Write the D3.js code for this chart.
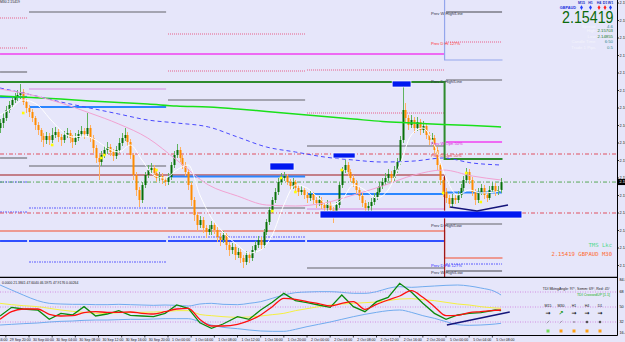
<!DOCTYPE html>
<html>
<head>
<meta charset="utf-8">
<title>GBPAUD M30</title>
<script src="https://d3js.org/d3.v7.min.js"></script>
<style>
 body { margin: 0; background: #e6e6fa; }
 svg { display: block; font-family: "Liberation Sans", Arial, sans-serif; }
</style>
</head>
<body>
<svg width="625" height="342"></svg>
<script>
// ---- data: GBPAUD M30 candles, 29 Sep 19:00 .. 5 Oct 09:30 ----
const firstOpen = 2.1650;
const close = [
 2.1660,2.1670,2.1686,2.1696,2.1706,2.1712,2.1716,2.1722,2.1702,2.1690,
 2.1682,2.1670,2.1656,2.1646,2.1634,2.1626,2.1634,2.1626,2.1636,2.1642,
 2.1632,2.1626,2.1636,2.1640,2.1630,2.1622,2.1630,2.1638,2.1644,2.1638,
 2.1650,2.1630,2.1610,2.1590,2.1582,2.1596,2.1606,2.1612,2.1602,2.1594,
 2.1606,2.1620,2.1630,2.1636,2.1622,2.1596,2.1556,2.1526,2.1506,2.1536,
 2.1556,2.1566,2.1570,2.1560,2.1550,2.1554,2.1546,2.1542,2.1552,2.1576,
 2.1596,2.1606,2.1590,2.1576,2.1562,2.1536,2.1506,2.1476,2.1456,2.1466,
 2.1450,2.1442,2.1448,2.1456,2.1446,2.1432,2.1426,2.1436,2.1416,2.1406,
 2.1412,2.1396,2.1402,2.1390,2.1382,2.1396,2.1390,2.1406,2.1416,2.1426,
 2.1416,2.1442,2.1462,2.1486,2.1506,2.1522,2.1542,2.1550,2.1554,2.1542,
 2.1534,2.1542,2.1530,2.1522,2.1526,2.1516,2.1510,2.1518,2.1506,2.1500,
 2.1506,2.1496,2.1490,2.1498,2.1486,2.1478,2.1496,2.1536,2.1566,2.1576,
 2.1562,2.1550,2.1540,2.1526,2.1514,2.1500,2.1490,2.1494,2.1502,2.1512,
 2.1522,2.1534,2.1542,2.1550,2.1558,2.1550,2.1566,2.1582,2.1626,2.1686,
 2.1670,2.1656,2.1666,2.1650,2.1662,2.1646,2.1654,2.1636,2.1626,2.1630,
 2.1606,2.1576,2.1546,2.1522,2.1510,2.1498,2.1510,2.1506,2.1516,2.1530,
 2.1546,2.1562,2.1546,2.1522,2.1506,2.1522,2.1530,2.1516,2.1510,2.1526,
 2.1534,2.1522,2.1526,2.15419
];
const high = [
 2.1668,2.1680,2.1694,2.1704,2.1714,2.1720,2.1726,2.1738,2.1728,2.1708,
 2.1696,2.1688,2.1674,2.1662,2.1650,2.1640,2.1642,2.1640,2.1650,2.1652,
 2.1648,2.1638,2.1644,2.1650,2.1646,2.1636,2.1640,2.1646,2.1654,2.1650,
 2.1680,2.1656,2.1636,2.1616,2.1598,2.1604,2.1614,2.1622,2.1618,2.1608,
 2.1614,2.1630,2.1640,2.1650,2.1642,2.1628,2.1600,2.1562,2.1532,2.1542,
 2.1562,2.1576,2.1580,2.1576,2.1566,2.1562,2.1560,2.1552,2.1560,2.1582,
 2.1604,2.1618,2.1612,2.1596,2.1582,2.1568,2.1542,2.1512,2.1482,2.1474,
 2.1472,2.1456,2.1456,2.1464,2.1462,2.1452,2.1440,2.1444,2.1440,2.1422,
 2.1420,2.1418,2.1410,2.1408,2.1396,2.1404,2.1402,2.1414,2.1424,2.1434,
 2.1432,2.1448,2.1468,2.1492,2.1512,2.1530,2.1550,2.1560,2.1562,2.1558,
 2.1548,2.1550,2.1546,2.1536,2.1534,2.1530,2.1522,2.1526,2.1522,2.1512,
 2.1514,2.1512,2.1502,2.1506,2.1502,2.1492,2.1502,2.1542,2.1572,2.1586,
 2.1582,2.1568,2.1556,2.1546,2.1532,2.1520,2.1506,2.1502,2.1510,2.1520,
 2.1530,2.1542,2.1550,2.1560,2.1568,2.1564,2.1574,2.1590,2.1634,2.1736,
 2.1700,2.1676,2.1676,2.1672,2.1672,2.1668,2.1664,2.1660,2.1642,2.1640,
 2.1636,2.1612,2.1582,2.1552,2.1530,2.1516,2.1518,2.1516,2.1524,2.1538,
 2.1554,2.1570,2.1568,2.1552,2.1528,2.1530,2.1538,2.1536,2.1522,2.1534,
 2.1542,2.1540,2.1534,2.1550
];
const low = [
 2.1640,2.1650,2.1664,2.1680,2.1690,2.1700,2.1704,2.1708,2.1696,2.1680,
 2.1672,2.1662,2.1646,2.1636,2.1622,2.1612,2.1618,2.1616,2.1620,2.1630,
 2.1622,2.1614,2.1620,2.1630,2.1620,2.1610,2.1616,2.1624,2.1632,2.1628,
 2.1632,2.1622,2.1600,2.1580,2.1546,2.1574,2.1590,2.1598,2.1594,2.1584,
 2.1588,2.1600,2.1614,2.1624,2.1614,2.1588,2.1546,2.1514,2.1492,2.1500,
 2.1530,2.1550,2.1558,2.1552,2.1542,2.1544,2.1538,2.1534,2.1536,2.1546,
 2.1570,2.1590,2.1582,2.1568,2.1554,2.1526,2.1494,2.1464,2.1444,2.1450,
 2.1440,2.1430,2.1436,2.1436,2.1438,2.1422,2.1414,2.1420,2.1406,2.1394,
 2.1398,2.1386,2.1390,2.1380,2.1370,2.1376,2.1380,2.1384,2.1400,2.1410,
 2.1406,2.1410,2.1436,2.1456,2.1480,2.1500,2.1516,2.1536,2.1544,2.1536,
 2.1526,2.1528,2.1522,2.1514,2.1516,2.1508,2.1500,2.1504,2.1498,2.1490,
 2.1494,2.1488,2.1480,2.1484,2.1476,2.1460,2.1470,2.1490,2.1530,2.1560,
 2.1554,2.1542,2.1532,2.1518,2.1506,2.1492,2.1482,2.1484,2.1484,2.1496,
 2.1506,2.1516,2.1528,2.1536,2.1544,2.1542,2.1544,2.1560,2.1576,2.1620,
 2.1660,2.1646,2.1650,2.1640,2.1644,2.1636,2.1640,2.1628,2.1616,2.1618,
 2.1598,2.1566,2.1536,2.1512,2.1500,2.1490,2.1492,2.1498,2.1500,2.1510,
 2.1524,2.1540,2.1538,2.1514,2.1496,2.1500,2.1516,2.1508,2.1502,2.1506,
 2.1520,2.1514,2.1516,2.1520
];

// moving averages (read every ~10 bars)
const maBars = [0, 11, 21, 31, 41, 51, 61, 72, 82, 92, 102, 112, 122, 132, 143, 153, 163, 173];
const pinkMA = [2.1728, 2.1716, 2.1700, 2.1680, 2.1658, 2.1630, 2.1586, 2.1536, 2.1514, 2.1496, 2.1494, 2.1500, 2.1516, 2.1534, 2.1556, 2.1566, 2.1554, 2.1546];
const blueMA = [2.1730, 2.1716, 2.1702, 2.1690, 2.1678, 2.1666, 2.1660, 2.1652, 2.1632, 2.1612, 2.1602, 2.1592, 2.1586, 2.1582, 2.1584, 2.1590, 2.1580, 2.1576];
const limeMA = [2.1714, 2.1711, 2.1708, 2.1704, 2.1701, 2.1698, 2.1694, 2.1692, 2.1688, 2.1683, 2.1678, 2.1673, 2.1668, 2.1663, 2.1660, 2.1657, 2.1655, 2.1652];

// fast MA and TDI lines (read every ~4 bars)
const sampleBars = [0,4,8,13,17,21,25,29,33,37,41,45,49,53,57,61,65,69,73,77,82,86,90,94,98,102,106,110,114,118,122,126,130,134,138,142,146,150,154,158,162,166,171,173];
const whiteMA = [2.1676,2.1690,2.1706,2.1696,2.1670,2.1646,2.1632,2.1634,2.1626,2.1610,2.1602,2.1616,2.1586,2.1556,2.1550,2.1566,2.1576,2.1516,2.1470,2.1442,2.1416,2.1400,2.1406,2.1436,2.1496,2.1536,2.1530,2.1510,2.1496,2.1506,2.1536,2.1526,2.1510,2.1526,2.1576,2.1636,2.1650,2.1616,2.1550,2.1516,2.1526,2.1520,2.1522,2.1526];
const tdiGreen = [39.2,49.6,47.6,46.4,35.2,42.4,40.4,50.4,39.2,41.6,45.6,40,39.2,38.4,42.4,52.4,48.4,31,24.4,29.6,38.4,35.2,46.4,55.6,66.4,57.6,55.2,52.4,49.6,64.4,50.4,44.4,56.4,61.6,78.4,68,54.4,42.4,35.2,40.4,42.4,43.2,46.4,45.6];
const tdiRed = [35.2,44.4,47.6,47.6,41.2,39.2,39.6,43.2,44.4,43.6,43.6,44,42.4,41.6,44.4,47.6,48.4,35,27.2,27.2,29.2,33.6,40.4,50.4,60.4,59.2,56.4,54,51.2,54.4,56.4,47.2,53.2,58.4,63.2,69.6,61.6,50.4,39.6,40,43.2,44.4,46,46.4];
const tdiYellow = [54.4,52.8,51.6,50.4,48.4,46.4,44.8,43.6,42.4,42.4,43.2,43.6,43.6,44,44.4,45.6,45.6,41,39.6,38.4,37.6,38,39.2,40.8,42.4,45.6,48,50.4,52.4,53.6,54.4,55.2,56,57.6,59.6,60,58.8,57.6,55.6,53.6,52.4,50.4,48.8,48.4];
const tdiUpper = [76.4,70.4,64.4,57.6,54.4,53.6,53.2,53.2,52.8,52.8,53.2,52.8,52.4,52,52.4,52,51.2,53.6,54.4,53.2,52.8,54.4,56.4,60.4,64.4,67.2,68,68.4,68.4,67.6,66.4,66.4,68.4,72.4,74.4,73.6,74.4,75.2,76,76.4,75.2,72.8,68.4,64.4];
const tdiLower = [28.4,29.2,30,30.8,32,32.8,33.2,34,34.4,34.4,34.8,35.2,35.2,35.6,36,36,36,32.4,28.4,25.6,24,22.4,21.2,20.8,20.8,23.2,26.4,29.2,32,35.2,38.4,41.2,43.6,45.6,46.4,43.6,39.6,36.4,32.4,28.8,28,28.4,29.6,30.4];
const tdiLevels = [68, 50, 32];

// days: 29 Sep (tail), 30 Sep, 1 Oct, 2 Oct, 5 Oct
const dayStart = [0, 10, 58, 106, 154];
const dayEnd = [9, 57, 105, 153, 173];
const prevDayHigh = [2.1762, 2.1882, 2.1706, 2.1614, 2.1746];
const prevDayLow = [2.1590, 2.1574, 2.1490, 2.1370, 2.1458];
const fibHigh1 = [2.1870, null, 2.1838, 2.1766, 2.1822];
const fibHigh2 = [2.1810, null, 2.1764, 2.1680, null];
const fibLow1 = [2.1542, 2.1490, 2.1432, null, 2.1378];
const fibLow2 = [2.1482, 2.1382, null, null, null];
const dayPivot = [2.1712, 2.1692, 2.1553, 2.1518, 2.1521];
const dayViolet = [null, 2.1728, null, 2.1488, null];
const dayRoyal = [2.1424, 2.1424, 2.1424, 2.1424, null];

// weeks: 28 Sep week, 5 Oct week
const weekStart = [0, 154];
const weekEnd = [153, 173];
const weekGreen = [2.1742, 2.1588];
const weekSalmon = [2.1444, 2.1390];
const weekSky = [2.1930, 2.1786];
const weekMaroon = [2.1556, 2.1340];
const weekMagenta = [2.1798, 2.1622];
const prevWeekHigh = 2.1882;
const prevWeekLow = 2.1364;
const openLevels = [2.1598, 2.1480];

const levelLabels = ["Prev W High/Line", "Prev D Hi 127%", "Prev D High/Line", "Prev W Opn 50%", "Prev D Opn 50%", "Prev D High/Low", "Prev D Fib 127%", "Prev W High/Low"];
const levelLabelPrices = [2.1882, 2.1822, 2.1746, 2.1622, 2.1598, 2.1458, 2.1378, 2.1364];

// supply / demand boxes
const zoneFrom = [110.5, 93.2, 115, 135.4];
const zoneTo = [180.2, 101.5, 122.6, 141.9];
const zoneTop = [2.1484, 2.1580, 2.1600, 2.1744];
const zoneBottom = [2.1470, 2.1566, 2.1590, 2.1732];

const trendBars = [155.4, 164.7, 175.4];
const trendPrices = [2.1492, 2.1484, 2.1496];
const oscTrendBars = [154.3, 176];
const oscTrendVals = [28.4, 44];

const markBars = [8, 18, 35, 36, 54, 94, 97, 102, 118, 153, 161, 166];
const markPrices = [2.1680, 2.1616, 2.1590, 2.1596, 2.1566, 2.1484, 2.1550, 2.1522, 2.1566, 2.1520, 2.1560, 2.1502];

const timeLabels = ["29 Sep 16:00","29 Sep 20:00","30 Sep 00:00","30 Sep 04:00","30 Sep 08:00","30 Sep 12:00","30 Sep 16:00","30 Sep 20:00",
 "1 Oct 00:00","1 Oct 04:00","1 Oct 08:00","1 Oct 12:00","1 Oct 16:00","1 Oct 20:00",
 "2 Oct 00:00","2 Oct 04:00","2 Oct 08:00","2 Oct 12:00","2 Oct 16:00","2 Oct 20:00",
 "5 Oct 00:00","5 Oct 04:00","5 Oct 08:00"];
const firstLabelBar = -6;
const priceTicks = [2.1900,2.1865,2.1830,2.1795,2.1760,2.1725,2.1690,2.1655,2.1620,2.1585,2.1550,2.1515,2.1480,2.1445,2.1410,2.1375];
const oscTicks = [84.8, 68, 50, 32, 16.4];

const symbolName = "GBPAUD";
const bid = close[close.length - 1];
const tfNames = ["M15", "H1", "H4", "D1", "W1"];
const tfUp = [true, true, false, false, true];
const infoNames = ["Spread", "High", "Low", "Candle Time", "Trade 1 Pips"];
const infoValues = ["4.6", "2.15703", "2.14855", "6:50", "0.5"];
const tdiTf = ["M15", "M30", "H1", "H4", "D1"];
const tdiTfState = ["flat", "up", "flat", "flat", "flat"];
const tdiTfColor = ["green", "orange", "orange", "orange", "orange"];

// ---- drawing ----
const svg = d3.select("svg");
const W = 625, H = 342;
const plotRight = 617, mainBottom = 277, oscTop = 278, oscBottom = 335;

const x = d3.scaleLinear().domain([0, 173]).range([0.04, 501.05]);
const y = d3.scaleLinear().domain([2.1352, 2.1906]).range([mainBottom, 0]);
const yo = d3.scaleLinear().domain([16.4, 84.8]).range([oscBottom, oscTop]);

svg.append("rect").attr("width", W).attr("height", H).attr("fill", "#e6e6fa");

const defs = svg.append("defs");
defs.append("clipPath").attr("id", "mainClip").append("rect")
    .attr("x", 0).attr("y", 0).attr("width", plotRight).attr("height", mainBottom);
defs.append("clipPath").attr("id", "oscClip").append("rect")
    .attr("x", 0).attr("y", oscTop).attr("width", plotRight).attr("height", oscBottom - oscTop);

const main = svg.append("g").attr("clip-path", "url(#mainClip)");
const osc = svg.append("g").attr("clip-path", "url(#oscClip)");

function hline(g, price, x1, x2, color, w, dash) {
    g.append("line")
     .attr("x1", x1).attr("x2", x2)
     .attr("y1", y(price)).attr("y2", y(price))
     .attr("stroke", color).attr("stroke-width", w)
     .attr("stroke-dasharray", dash || null);
}

function dayLevels(levels, color, w, dash) {
    levels.forEach((v, k) => {
        if (v == null) return;
        hline(main, v, x(dayStart[k]), x(dayEnd[k]) + 1, color, w, dash);
    });
}

function weekStep(levels, color, w) {
    const pts = [];
    levels.forEach((v, k) => {
        pts.push([x(weekStart[k] - 0.5), y(v)]);
        pts.push([x(weekEnd[k] + 0.5), y(v)]);
    });
    main.append("path").attr("d", d3.line()(pts))
        .attr("fill", "none").attr("stroke", color).attr("stroke-width", w);
}

// level lines behind the candles
dayLevels(fibHigh1, "#e8608a", 1, "1,1");
dayLevels(fibHigh2, "#e8608a", 1, "1,1");
dayLevels(fibLow1, "#5a5aff", 1, "2,1,1,1");
dayLevels(fibLow2, "#5a5aff", 1, "2,1,1,1");
dayLevels(prevDayHigh, "#8e8e98", 1.6);
dayLevels(prevDayLow, "#8e8e98", 1.6);
dayLevels(dayViolet, "#d58be0", 1.2);
dayLevels(dayRoyal, "#3050ff", 2);
hline(main, prevWeekHigh, x(dayStart[4]), x(dayEnd[4]) + 1, "#7a7a84", 1.4);
hline(main, prevWeekLow, x(dayStart[4]), x(dayEnd[4]) + 1, "#7a7a84", 1.4);

weekMagenta.forEach((v, k) => hline(main, v, x(weekStart[k]), x(weekEnd[k]) + 1, "#f040f0", 1.6));
weekStep(weekSky, "#93a6ec", 1.2);
weekStep(weekSalmon, "#f08070", 1.3);
weekStep(weekMaroon, "#a01818", 1.2);

openLevels.forEach(v => hline(main, v, 0, plotRight, "#e05060", 1, "4,2,1,2"));
hline(main, bid, 0, plotRight, "#58a858", 1, "4,2,1,2");

weekStep(weekGreen, "#2e8b2e", 2);
dayLevels(dayPivot, "#2a86ff", 2.2);

// candles
const bars = close.map((c, i) => ({ i, o: i ? close[i - 1] : firstOpen, h: high[i], l: low[i], c }));
const cg = main.append("g");
cg.selectAll("line").data(bars).join("line")
  .attr("x1", d => Math.round(x(d.i)) + 0.5).attr("x2", d => Math.round(x(d.i)) + 0.5)
  .attr("y1", d => y(Math.max(d.h, d.o, d.c))).attr("y2", d => y(Math.min(d.l, d.o, d.c)))
  .attr("stroke", d => d.c >= d.o ? "#5fb35f" : "#ffb060").attr("stroke-width", 1);
cg.selectAll("rect").data(bars).join("rect")
  .attr("x", d => Math.round(x(d.i)) - 0.5).attr("width", 2)
  .attr("y", d => y(Math.max(d.o, d.c)))
  .attr("height", d => Math.max(0.8, Math.abs(y(d.o) - y(d.c))))
  .attr("fill", d => d.c >= d.o ? "#087008" : "#ff8c00");

// moving averages over the candles
const maLine = d3.line().x(d => x(d[0])).y(d => y(d[1])).curve(d3.curveMonotoneX);
main.append("path").attr("d", maLine(d3.zip(maBars, limeMA)))
    .attr("fill", "none").attr("stroke", "#19e019").attr("stroke-width", 1.5);
main.append("path").attr("d", maLine(d3.zip(maBars, blueMA)))
    .attr("fill", "none").attr("stroke", "#4a4aff").attr("stroke-width", 1).attr("stroke-dasharray", "4,3");
main.append("path").attr("d", maLine(d3.zip(maBars, pinkMA)))
    .attr("fill", "none").attr("stroke", "#f2a2d2").attr("stroke-width", 1);
main.append("path").attr("d", maLine(d3.zip(sampleBars, whiteMA)))
    .attr("fill", "none").attr("stroke", "#ffffff").attr("stroke-width", 1);

// boxes
main.selectAll("rect.zone").data(zoneFrom.map((f, k) => k)).join("rect")
    .attr("class", "zone")
    .attr("x", k => x(zoneFrom[k])).attr("width", k => x(zoneTo[k]) - x(zoneFrom[k]))
    .attr("y", k => y(zoneTop[k])).attr("height", k => y(zoneBottom[k]) - y(zoneTop[k]))
    .attr("fill", "#0018f0").attr("stroke", "#ffffff").attr("stroke-width", 0.7);

// trend line
main.append("path")
    .attr("d", d3.line().x(d => x(d[0])).y(d => y(d[1]))(d3.zip(trendBars, trendPrices)))
    .attr("fill", "none").attr("stroke", "#14147a").attr("stroke-width", 1.5);

// yellow signal marks
main.selectAll("rect.mark").data(markBars.map((b, k) => k)).join("rect")
    .attr("class", "mark")
    .attr("x", k => x(markBars[k]) - 1.3).attr("y", k => y(markPrices[k]) - 1.3)
    .attr("width", 2.6).attr("height", 2.6).attr("fill", "#ffff00");

// level captions
const capColor = ["#333344", "#ff3030", "#333344", "#e020e0", "#e83a3a", "#333344", "#3030ff", "#333344"];
levelLabels.forEach((t, k) => {
    main.append("text").attr("x", 431).attr("y", y(levelLabelPrices[k]) + 3.4)
        .attr("font-size", 4.1).attr("fill", capColor[k]).text(t);
});

// top-right info block
tfNames.forEach((t, k) => {
    const cx = [581.5, 590.5, 599, 605, 610.5][k];
    svg.append("text").attr("x", cx).attr("y", 4.2).attr("text-anchor", "middle")
       .attr("font-size", 3.6).attr("font-weight", "bold").attr("fill", "#2030c0").text(t);
    svg.append("path").attr("transform", `translate(${cx},7.6)`)
       .attr("d", d3.symbol(d3.symbolDiamond, 7)())
       .attr("fill", tfUp[k] ? "#2040ff" : "#ff2020");
});
svg.append("text").attr("x", 576).attr("y", 9).attr("text-anchor", "end")
   .attr("font-size", 3.8).attr("font-weight", "bold").attr("fill", "#2030e0").text(symbolName);
svg.append("text").attr("x", 562).attr("y", 22.8)
   .attr("font-size", 17).attr("textLength", 51.5).attr("lengthAdjust", "spacingAndGlyphs")
   .attr("fill", "#0b6a0b").text(bid.toFixed(5));
const infoColor = ["#2f8a8a", "#1d7a1d", "#1d7a1d", "#2f8a8a", "#2f8a8a"];
infoNames.forEach((t, k) => {
    const yy = [27.8, 32.4, 37.6, 43, 48.5][k];
    svg.append("text").attr("x", 595.5).attr("y", yy).attr("text-anchor", "end")
       .attr("font-size", 4.3).attr("fill", "#f4f4fc").text(t);
    svg.append("text").attr("x", 613).attr("y", yy).attr("text-anchor", "end")
       .attr("font-size", 4.3).attr("fill", infoColor[k]).text(infoValues[k]);
});
svg.append("text").attr("x", 0).attr("y", 3.2).attr("font-size", 3.4).attr("fill", "#222")
   .text("M30  " + bid.toFixed(5));

// bottom-right caption
svg.append("text").attr("x", 612).attr("y", 247).attr("text-anchor", "end")
   .attr("font-family", "DejaVu Sans Mono, monospace").attr("font-size", 5.6)
   .attr("fill", "#52d98c").text("TMS Lkc");
svg.append("text").attr("x", 612).attr("y", 255.5).attr("text-anchor", "end")
   .attr("font-family", "DejaVu Sans Mono, monospace").attr("font-size", 5.6)
   .attr("fill", "#ff6a30").text(`${bid.toFixed(5)} ${symbolName} M30`);

// ---- oscillator (TDI) ----
tdiLevels.forEach(v => {
    osc.append("line").attr("x1", 0).attr("x2", plotRight).attr("y1", yo(v)).attr("y2", yo(v))
       .attr("stroke", "#cc77dd").attr("stroke-width", 0.8).attr("stroke-dasharray", "1,1.5");
});
const oLine = d3.line().x(d => x(d[0])).y(d => yo(d[1])).curve(d3.curveMonotoneX);
const oLineRaw = d3.line().x(d => x(d[0])).y(d => yo(d[1]));
osc.append("path").attr("d", oLine(d3.zip(sampleBars, tdiUpper)))
   .attr("fill", "none").attr("stroke", "#72acef").attr("stroke-width", 1);
osc.append("path").attr("d", oLine(d3.zip(sampleBars, tdiLower)))
   .attr("fill", "none").attr("stroke", "#72acef").attr("stroke-width", 1);
osc.append("path").attr("d", oLine(d3.zip(sampleBars, tdiYellow)))
   .attr("fill", "none").attr("stroke", "#f5f040").attr("stroke-width", 1);
osc.append("path").attr("d", oLineRaw(d3.zip(sampleBars, tdiGreen)))
   .attr("fill", "none").attr("stroke", "#0c8a0c").attr("stroke-width", 1.3);
osc.append("path").attr("d", oLine(d3.zip(sampleBars, tdiRed)))
   .attr("fill", "none").attr("stroke", "#ff1010").attr("stroke-width", 1.3);
osc.append("path").attr("d", oLineRaw(d3.zip(oscTrendBars, oscTrendVals)))
   .attr("fill", "none").attr("stroke", "#14147a").attr("stroke-width", 1.5);

svg.append("text").attr("x", 2).attr("y", 283.5).attr("font-size", 3.4).attr("fill", "#222")
   .text("0.0000 21.3841 47.6040 46.5975 47.9176 0.00264");
svg.append("text").attr("x", 610).attr("y", 290).attr("text-anchor", "end")
   .attr("font-size", 3.5).attr("fill", "#222").text("TDI MktngAngle: 97°, Semm: 69°, Red: 45°");
svg.append("text").attr("x", 610).attr("y", 295.5).attr("text-anchor", "end")
   .attr("font-size", 3.6).attr("fill", "#18b018").text("TDI CrossedUP [1.1]");

const tfX = [548, 561, 574, 587, 600];
tdiTf.forEach((t, k) => {
    const cx = tfX[k];
    svg.append("text").attr("x", cx).attr("y", 307).attr("text-anchor", "middle")
       .attr("font-size", 3.6).attr("fill", "#222").text(t);
    svg.append("text").attr("x", cx).attr("y", 315).attr("text-anchor", "middle")
       .attr("font-family", "DejaVu Sans, sans-serif").attr("font-weight", "bold")
       .attr("font-size", 6).attr("fill", tdiTfState[k] === "up" ? "#1a9a1a" : "#111")
       .text(tdiTfState[k] === "up" ? "\u2197" : "\u2192");
    if (k < 2) {
        svg.append("line").attr("x1", cx - 1.3).attr("x2", cx + 1.3).attr("y1", 323.3).attr("y2", 320.7)
           .attr("stroke", "#9a9aa8").attr("stroke-width", 0.9);
    } else {
        svg.append("circle").attr("cx", cx).attr("cy", 322).attr("r", k === 2 ? 0.7 : 1.3).attr("fill", "#555");
    }
    svg.append("rect").attr("x", cx - 1.5).attr("y", 329.5).attr("width", 3).attr("height", 3)
       .attr("fill", tdiTfColor[k] === "green" ? "#74dd5a" : "#ffa010");
});

// ---- frames and axes ----
svg.append("line").attr("x1", 0).attr("x2", plotRight).attr("y1", 277.3).attr("y2", 277.3)
   .attr("stroke", "#000").attr("stroke-width", 1.3);
svg.append("line").attr("x1", 0).attr("x2", plotRight + 0.5).attr("y1", oscBottom + 0.5).attr("y2", oscBottom + 0.5)
   .attr("stroke", "#000").attr("stroke-width", 1);
svg.append("line").attr("x1", plotRight + 0.5).attr("x2", plotRight + 0.5).attr("y1", 0).attr("y2", oscBottom + 0.5)
   .attr("stroke", "#000").attr("stroke-width", 1);

priceTicks.forEach(p => {
    svg.append("line").attr("x1", plotRight).attr("x2", plotRight + 2).attr("y1", y(p)).attr("y2", y(p))
       .attr("stroke", "#000").attr("stroke-width", 0.8);
    svg.append("text").attr("x", 619.5).attr("y", y(p) + 1.4).attr("font-size", 3.8).attr("fill", "#111")
       .text(p.toFixed(4));
});
svg.append("rect").attr("x", plotRight + 1).attr("y", y(bid) - 3).attr("width", 8).attr("height", 6).attr("fill", "#000");
svg.append("text").attr("x", 619.5).attr("y", y(bid) + 1.4).attr("font-size", 3.8).attr("fill", "#fff")
   .text(bid.toFixed(4));

oscTicks.forEach(v => {
    svg.append("text").attr("x", 619.5).attr("y", Math.min(334, Math.max(281, yo(v) + 1.4)))
       .attr("font-size", 3.8).attr("fill", "#111").text(String(v));
});

timeLabels.forEach((t, k) => {
    const bx = x(firstLabelBar + 8 * k);
    svg.append("line").attr("x1", bx).attr("x2", bx).attr("y1", oscBottom + 0.5).attr("y2", oscBottom + 2.5)
       .attr("stroke", "#000").attr("stroke-width", 0.7);
    svg.append("text").attr("x", bx + 4).attr("y", 340.8).attr("font-size", 3.5).attr("fill", "#111").text(t);
});
</script>
</body>
</html>
